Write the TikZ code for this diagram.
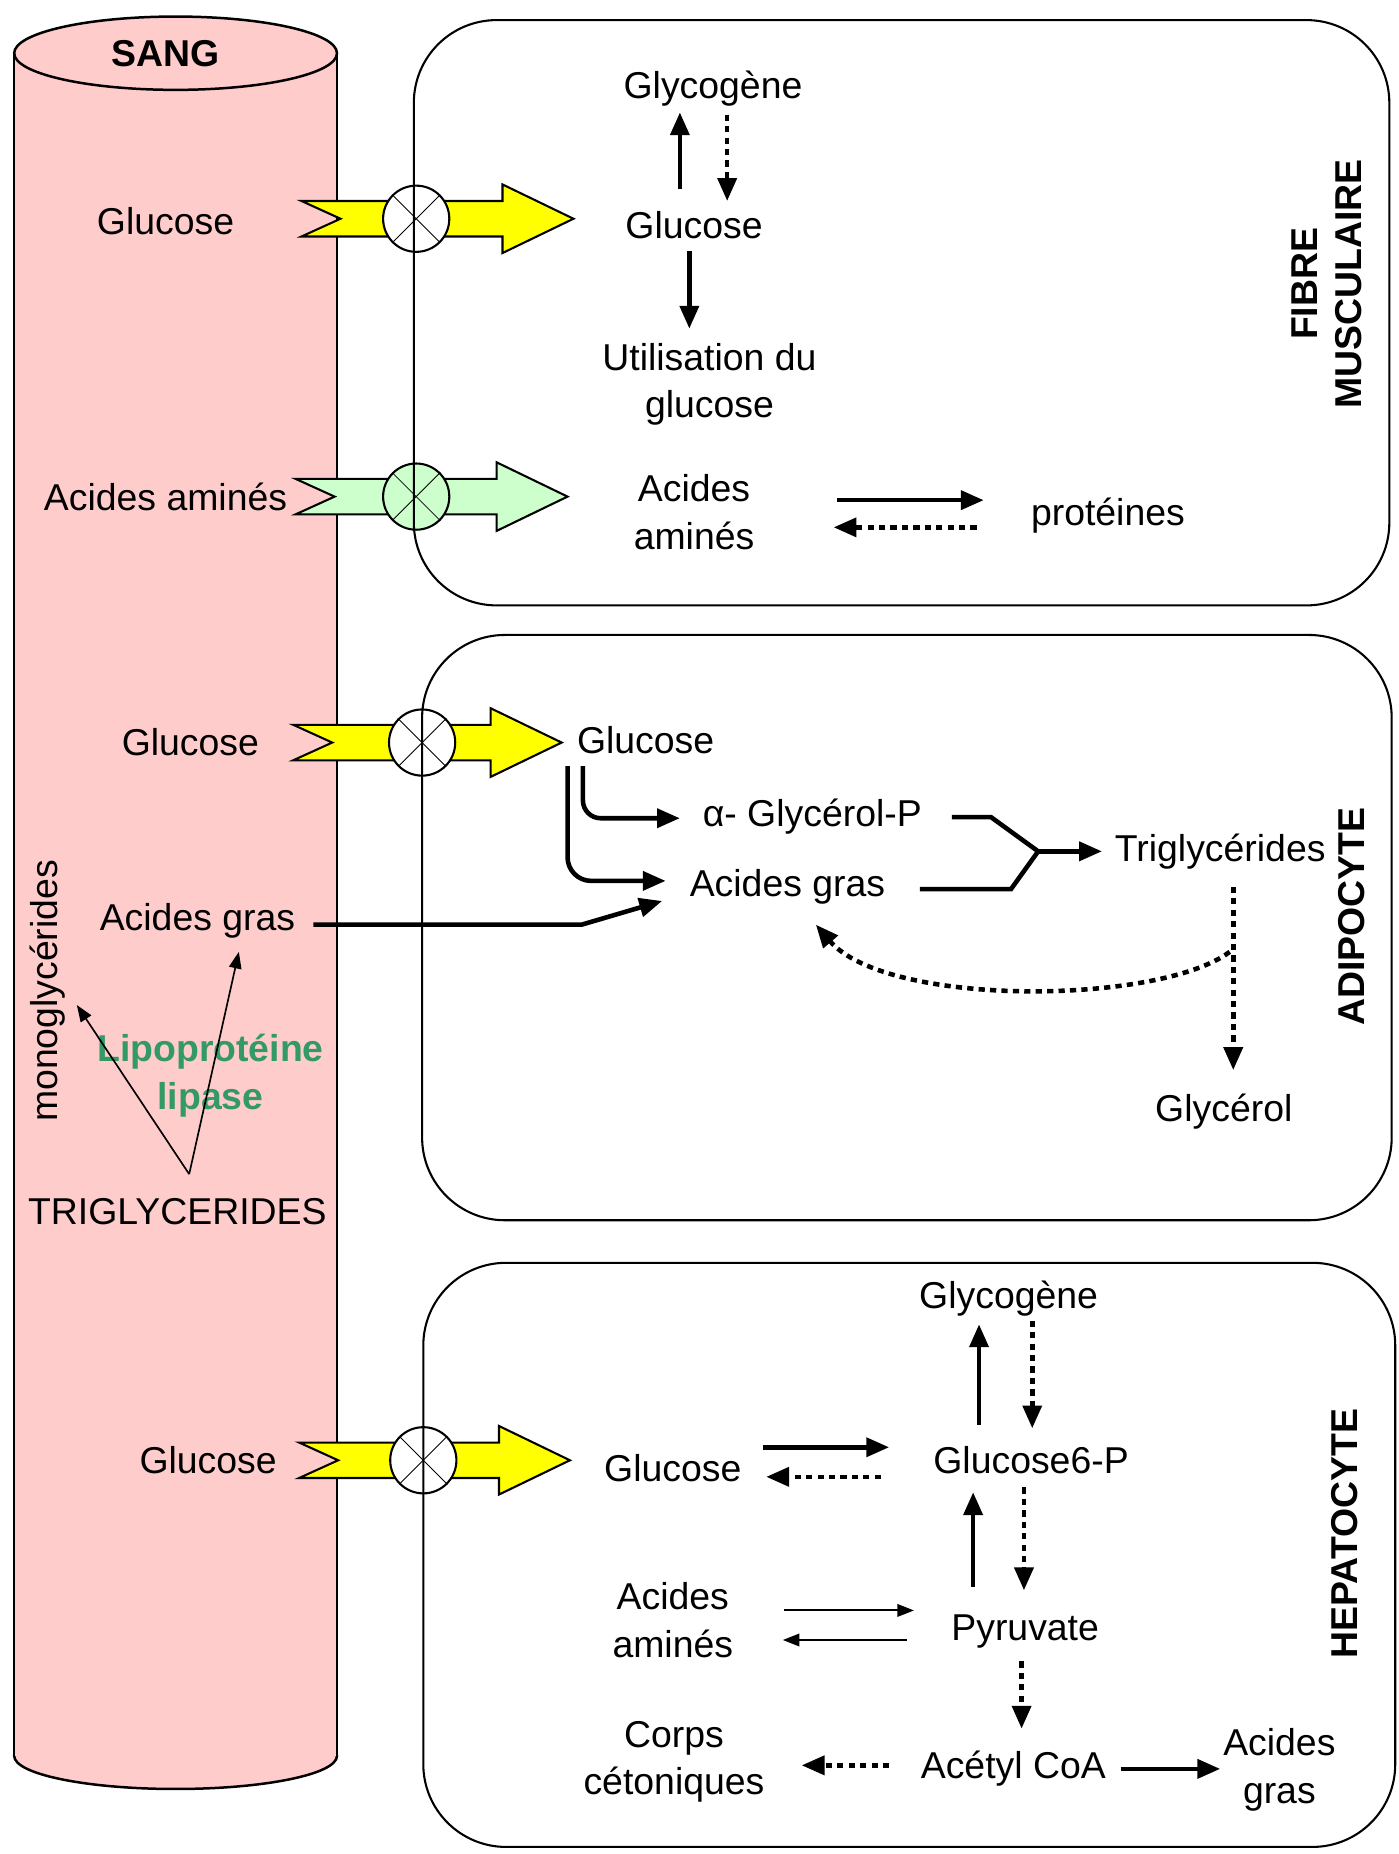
\documentclass[tikz,border=0pt]{standalone}
\usepackage{fontspec}
\setmainfont{Liberation Sans}
\usetikzlibrary{arrows.meta,calc}
\definecolor{sangpink}{RGB}{255,204,204}
\definecolor{chanyellow}{RGB}{255,255,0}
\definecolor{changreen}{RGB}{204,255,204}
\definecolor{lipgreen}{RGB}{51,153,102}

\begin{document}
\begin{tikzpicture}[x=0.02cm, y=-0.02cm,
  every node/.style={font=\fontsize{18}{23}\selectfont, inner sep=2pt, align=center},
  tag/.style={rotate=90, font=\fontsize{18}{21}\selectfont\bfseries},
  cell/.style={draw, line width=1pt, rounded corners=1.4cm},
  chan/.style={draw, circle, line width=1pt, minimum size=1.12cm, inner sep=0pt},
  solidarr/.style={-{Triangle[length=11pt,width=9pt]}, line width=2.2pt},
  dotarr/.style={solidarr, dash pattern=on 3pt off 2.5pt},
  thinarr/.style={-{Triangle[length=8pt,width=6pt]}, line width=1pt},
  lipline/.style={-{Triangle[length=8pt,width=6pt]}, line width=0.8pt}
]
\useasboundingbox (0,0) rectangle (1183,1568);

\filldraw[fill=sangpink, line width=1.2pt] (148.5,1485) ellipse [x radius=136.5, y radius=28];
\fill[sangpink] (12,45) rectangle (285,1485);
\draw[line width=1.2pt] (12,45) -- (12,1485) (285,45) -- (285,1485);
\filldraw[fill=sangpink, line width=1.2pt] (148.5,45) ellipse [x radius=136.5, y radius=31];

\foreach \n/\tl/\cy/\cx/\tp/\col/\inn in {1/255/185/352/485/chanyellow/white,
    2/250/420/352/480/changreen/changreen, 3/248/628/357/475/chanyellow/white,
    4/253/1235/358/482/chanyellow/white} {
  \filldraw[fill=\col, line width=1pt] (\tl,\cy-15) -- (\cx,\cy-15) -- (\cx,\cy+15)
    -- (\tl,\cy+15) -- (\tl+33,\cy) -- cycle;
  \filldraw[fill=\col, line width=1pt] (\cx,\cy-15) -- (\tp-60,\cy-15) -- (\tp-60,\cy-29)
    -- (\tp,\cy) -- (\tp-60,\cy+29) -- (\tp-60,\cy+15) -- (\cx,\cy+15) -- cycle;
  \node[chan, fill=\inn] (ch\n) at (\cx,\cy) {};
  \draw (ch\n.north east) -- (ch\n.south west) (ch\n.north west) -- (ch\n.south east);
}

\draw[cell] (350,17) rectangle (1175,512);
\draw[cell] (357,537) rectangle (1177,1032);
\draw[cell] (358,1068) rectangle (1180,1562);

\node[font=\fontsize{18}{23}\selectfont\bfseries] (sang) at (140,45) {SANG};
\node (sglu1) at (140,187) {Glucose};
\node (saa) at (140,420) {Acides aminés};
\node (sglu2) at (161,628) {Glucose};
\node (sag) at (167,779) {Acides gras};
\node[rotate=90] (smono) at (40,838) {monoglycérides};
\node[text=lipgreen, font=\fontsize{18}{23}\selectfont\bfseries] (slip) at (178,910) {Lipoprotéine\\lipase};
\node (stg) at (150,1025) {TRIGLYCERIDES};
\node (sglu3) at (176,1235) {Glucose};

\coordinate (tgtop) at ($(stg)+(10,-32)$);
\draw[lipline] (tgtop) -- ($(smono)+(25,12)$);
\draw[lipline] (tgtop) -- ($(sag)+(35,26)$);

\node (fgly) at (603,75) {Glycogène};
\node (fglu) at (587,190) {Glucose};
\node (futil) at (600,325) {Utilisation du\\glucose};
\node (faa) at (587,433) {Acides\\aminés};
\node (fprot) at (937,436) {protéines};
\node[tag] (ftag) at (1122,240) {FIBRE\\MUSCULAIRE};

\draw[solidarr] ($(fglu)+(-12,-30)$) -- ($(fgly)+(-28,20)$);
\draw[dotarr] ($(fgly)+(12,22)$) -- ($(fglu)+(28,-20)$);
\draw[solidarr] ($(fglu)+(-4,22)$) -- ($(futil)+(-17,-47)$);
\draw[solidarr] ($(faa)+(121,-10)$) -- ($(fprot)+(-105,-13)$);
\draw[dotarr] ($(fprot)+(-111,10)$) -- ($(faa)+(118,13)$);

\node (aglu) at (546,626) {Glucose};
\node (aglp) at (687,691) {α- Glycérol-P};
\node (aag) at (666,750) {Acides gras};
\node (atg) at (1032,720) {Triglycérides};
\node (agly) at (1035,940) {Glycérol};
\node[tag] (atag) at (1143,775) {ADIPOCYTE};

\draw[solidarr, rounded corners=0.3cm] ($(aglu)+(-53,22)$) |- ($(aglp)+(-112,1)$);
\draw[solidarr, rounded corners=0.4cm] ($(aglu)+(-66,22)$) |- ($(aag)+(-103,-5)$);
\draw[solidarr] ($(sag)+(98,3)$) -- ++(227,0) -- ($(aag)+(-106,12)$);
\coordinate (ajoin) at ($(atg)+(-154,0)$);
\draw[line width=2.2pt] ($(aglp)+(118,0)$) -- ++(33,0) -- (ajoin);
\draw[line width=2.2pt] ($(aag)+(112,2)$) -- ++(77,0) -- (ajoin);
\draw[solidarr] (ajoin) -- ($(atg)+(-100,0)$);
\draw[dotarr] ($(atg)+(11,30)$) -- ($(agly)+(8,-35)$);
\draw[dotarr] ($(atg)+(8,85)$) .. controls +(-60,45) and +(60,70) .. ($(aag)+(24,32)$);

\node (hgly) at (853,1098) {Glycogène};
\node (hglu) at (569,1242) {Glucose};
\node (hg6p) at (872,1235) {Glucose6-P};
\node (haa) at (569,1370) {Acides\\aminés};
\node (hpyr) at (867,1380) {Pyruvate};
\node (hcorps) at (570,1490) {Corps\\cétoniques};
\node (hacoa) at (857,1496) {Acétyl CoA};
\node (hag) at (1082,1497) {Acides\\gras};
\node[tag] (htag) at (1137,1297) {HEPATOCYTE};

\draw[solidarr] ($(hglu)+(76,-18)$) -- ($(hg6p)+(-120,-11)$);
\draw[dotarr] ($(hg6p)+(-127,14)$) -- ($(hglu)+(79,7)$);
\draw[solidarr] ($(hg6p)+(-44,-30)$) -- ($(hgly)+(-25,22)$);
\draw[dotarr] ($(hgly)+(20,19)$) -- ($(hg6p)+(1,-27)$);
\draw[solidarr] ($(hpyr)+(-44,-38)$) -- ($(hg6p)+(-49,27)$);
\draw[dotarr] ($(hg6p)+(-6,23)$) -- ($(hpyr)+(-1,-35)$);
\draw[thinarr] ($(haa)+(94,-8)$) -- ($(hpyr)+(-94,-18)$);
\draw[thinarr] ($(hpyr)+(-100,7)$) -- ($(haa)+(93,17)$);
\draw[dotarr] ($(hpyr)+(-3,25)$) -- ($(hacoa)+(7,-34)$);
\draw[dotarr] ($(hacoa)+(-105,-3)$) -- ($(hcorps)+(108,3)$);
\draw[solidarr] ($(hacoa)+(91,0)$) -- ($(hag)+(-50,-1)$);
\end{tikzpicture}
\end{document}
